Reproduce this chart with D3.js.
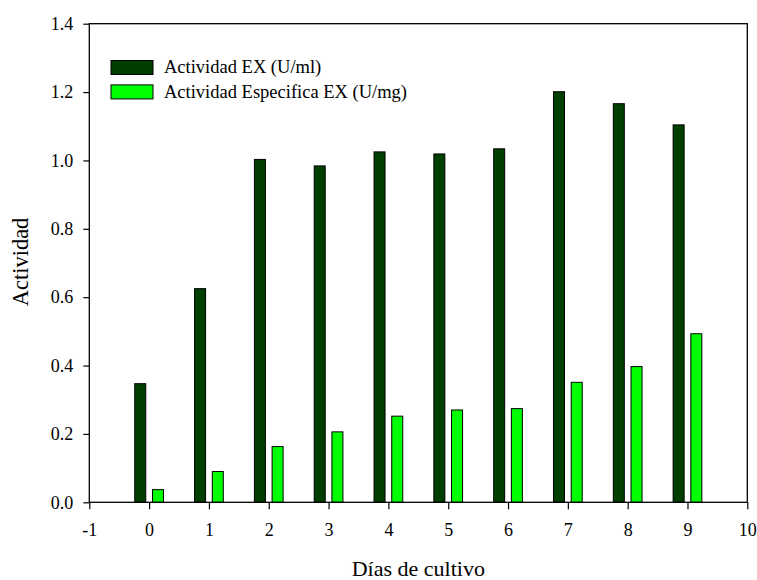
<!DOCTYPE html>
<html>
<head>
<meta charset="utf-8">
<script src="https://cdn.jsdelivr.net/npm/d3@7"></script>
<style>
  body { margin: 0; background: #fff; }
  svg { display: block; font-family: "Liberation Serif", "Times New Roman", serif; }
</style>
</head>
<body>
<svg id="chart" width="757" height="580"></svg>
<script>
// Culture days and measured activities
const days = [0, 1, 2, 3, 4, 5, 6, 7, 8, 9];
const actividadEX = [0.347, 0.625, 1.003, 0.984, 1.025, 1.019, 1.034, 1.201, 1.166, 1.104];
const actividadEspecifica = [0.037, 0.090, 0.163, 0.206, 0.252, 0.270, 0.274, 0.351, 0.397, 0.493];
const xTicks = [-1, 0, 1, 2, 3, 4, 5, 6, 7, 8, 9, 10];
const yTicks = [0.0, 0.2, 0.4, 0.6, 0.8, 1.0, 1.2, 1.4];
const seriesNames = ["Actividad EX (U/ml)", "Actividad Especifica EX (U/mg)"];
const seriesColors = ["#003f00", "#00ff00"];

const svg = d3.select("#chart");
const margin = { left: 89.3, right: 9.7, top: 23.7, bottom: 77.7 };
const W = 757, H = 580;

const x = d3.scaleLinear().domain([-1, 10]).range([margin.left, W - margin.right]);
const y = d3.scaleLinear().domain([0, 1.4]).range([H - margin.bottom, margin.top]);

const barW = 0.184;   // bar width in day units
const offset = 0.148; // centre offset of each series from the day

const series = [actividadEX, actividadEspecifica];
series.forEach((vals, si) => {
  svg.append("g").selectAll("rect")
    .data(days.map((d, i) => ({ d, v: vals[i] })))
    .join("rect")
    .attr("x", p => x(p.d + (si === 0 ? -offset : offset) - barW / 2))
    .attr("width", p => x(p.d + barW) - x(p.d))
    .attr("y", p => y(p.v))
    .attr("height", p => y(0) - y(p.v))
    .attr("fill", seriesColors[si])
    .attr("stroke", "#000")
    .attr("stroke-width", 1);
});

// Frame
svg.append("rect")
  .attr("x", x(-1)).attr("y", y(1.4))
  .attr("width", x(10) - x(-1)).attr("height", y(0) - y(1.4))
  .attr("fill", "none").attr("stroke", "#000").attr("stroke-width", 1.3);

// Axes
const xAxis = d3.axisBottom(x).tickValues(xTicks)
  .tickFormat(d => (d < 0 ? "-" + Math.abs(d) : String(d)))
  .tickSize(7).tickPadding(14);
const yAxis = d3.axisLeft(y).tickValues(yTicks).tickFormat(d3.format(".1f")).tickSize(6).tickPadding(10);

const gx = svg.append("g").attr("transform", `translate(0,${y(0)})`).call(xAxis);
const gy = svg.append("g").attr("transform", `translate(${x(-1)},0)`).call(yAxis);
[gx, gy].forEach(g => {
  g.select(".domain").remove();
  g.selectAll("line").attr("stroke", "#000").attr("stroke-width", 1.2);
  g.selectAll("text").attr("font-family", "Liberation Serif, serif").attr("font-size", 18).attr("fill", "#000");
});

// Axis titles
svg.append("text")
  .attr("x", (x(-1) + x(10)) / 2).attr("y", 576)
  .attr("text-anchor", "middle").attr("font-size", 22)
  .text("Días de cultivo");
svg.append("text")
  .attr("transform", `translate(28,262) rotate(-90)`)
  .attr("text-anchor", "middle").attr("font-size", 22.5)
  .text("Actividad");

// Legend
const legend = svg.append("g").attr("transform", "translate(111,60.5)");
seriesNames.forEach((name, i) => {
  const g = legend.append("g").attr("transform", `translate(0,${i * 24.4})`);
  g.append("rect").attr("width", 42).attr("height", 14)
    .attr("fill", seriesColors[i]).attr("stroke", "#000").attr("stroke-width", 1);
  g.append("text").attr("x", 53).attr("y", 12.8).attr("font-size", 18.5).text(name);
});
</script>
</body>
</html>
